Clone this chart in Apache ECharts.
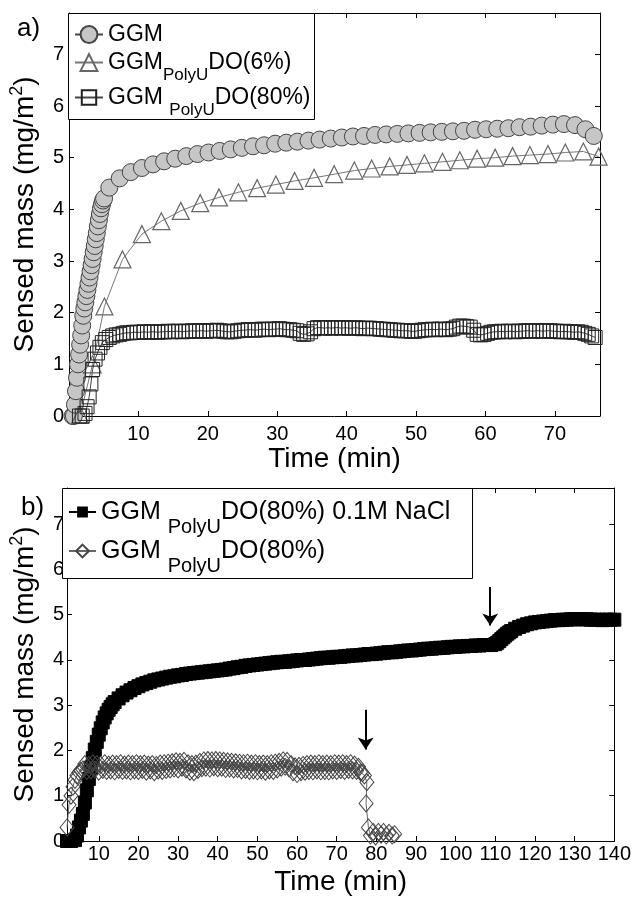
<!DOCTYPE html>
<html>
<head>
<meta charset="utf-8">
<script src="https://cdn.jsdelivr.net/npm/echarts@6/dist/echarts.min.js"></script>
<style>
  html, body { margin: 0; padding: 0; background: #fff; }
  #chart { width: 634px; height: 897px; }
</style>
</head>
<body>
<div id="chart"></div>
<script>
// ---- data ----
const xTicksA = [10, 20, 30, 40, 50, 60, 70];
const xTicksB = [10, 20, 30, 40, 50, 60, 70, 80, 90, 100, 110, 120, 130, 140];
const yTicks = [0, 1, 2, 3, 4, 5, 6, 7];

// panel a) GGM (circles)
const ggm = [
  [0.5, 0.0], [0.7, 0.0], [0.85, 0.22], [1.0, 0.48], [1.15, 0.74], [1.3, 1.0], [1.45, 1.19], [1.6, 1.38],
  [1.75, 1.56], [1.9, 1.75], [2.05, 1.94], [2.2, 2.08], [2.35, 2.2], [2.5, 2.32], [2.65, 2.44], [2.8, 2.56],
  [2.95, 2.68], [3.1, 2.8], [3.25, 2.92], [3.4, 3.04], [3.55, 3.17], [3.7, 3.29], [3.85, 3.42], [4.0, 3.54],
  [4.15, 3.67], [4.3, 3.79], [4.45, 3.91], [4.6, 4.02], [4.75, 4.1], [4.9, 4.17], [5.05, 4.21],
  [5.8, 4.42], [7.3, 4.6], [8.9, 4.72], [10.5, 4.8], [12.1, 4.87], [13.7, 4.93], [15.3, 4.98],
  [16.9, 5.03], [18.5, 5.07], [20.1, 5.1], [21.7, 5.13], [23.3, 5.16], [24.9, 5.19], [26.5, 5.22],
  [28.1, 5.24], [29.7, 5.27], [31.3, 5.29], [32.9, 5.31], [34.5, 5.33], [36.1, 5.35], [37.7, 5.37],
  [39.3, 5.39], [40.9, 5.41], [42.5, 5.42], [44.1, 5.44], [45.7, 5.45], [47.3, 5.46], [48.9, 5.47],
  [50.5, 5.48], [52.1, 5.49], [53.7, 5.5], [55.3, 5.51], [56.9, 5.52], [58.5, 5.54], [60.1, 5.55],
  [61.7, 5.56], [63.3, 5.57], [64.9, 5.59], [66.5, 5.6], [68.1, 5.62], [69.7, 5.64], [71.3, 5.65],
  [72.9, 5.63], [74.4, 5.55], [75.6, 5.42]
];

// panel a) GGM PolyU DO(6%) (triangles)
const do6 = [
  [1.6, 0.02], [3.4, 1.0], [5.1, 2.12], [7.7, 3.03], [10.5, 3.52], [13.3, 3.77], [16.1, 3.97],
  [18.9, 4.12], [21.6, 4.23], [24.4, 4.33], [27.1, 4.41], [29.8, 4.48], [32.5, 4.55], [35.3, 4.61],
  [38.2, 4.68], [41.1, 4.75], [43.6, 4.79], [46.2, 4.83], [48.7, 4.86], [51.2, 4.89], [53.8, 4.92],
  [56.3, 4.95], [58.8, 4.98], [61.4, 5.0], [63.9, 5.03], [66.4, 5.05], [69.0, 5.07], [71.5, 5.1],
  [74.1, 5.12], [76.3, 5.02]
];

// panel a) GGM PolyU DO(80%) (squares)
const do80a = [
  [1.5, 0.0], [1.9, 0.0], [2.3, 0.05], [2.6, 0.18], [2.9, 0.37], [3.15, 0.62], [3.4, 0.9], [3.75, 1.1],
  [4.1, 1.22], [4.45, 1.33], [4.8, 1.42], [5.3, 1.48], [5.8, 1.52], [6.3, 1.55], [6.8, 1.57], [7.3, 1.58],
  [7.8, 1.6], [8.3, 1.61], [8.8, 1.61], [9.3, 1.62], [9.8, 1.62], [10.3, 1.62], [10.8, 1.63], [11.3, 1.62],
  [11.8, 1.63], [12.3, 1.63], [12.8, 1.62], [13.3, 1.63], [13.8, 1.63], [14.3, 1.64], [14.8, 1.63],
  [15.3, 1.64], [15.8, 1.64], [16.3, 1.63], [16.8, 1.64], [17.3, 1.64], [17.8, 1.65], [18.3, 1.64],
  [18.8, 1.65], [19.3, 1.65], [19.8, 1.64], [20.3, 1.65], [20.8, 1.65], [21.3, 1.66], [21.8, 1.65],
  [22.3, 1.64], [22.8, 1.63], [23.3, 1.63], [23.8, 1.64], [24.3, 1.65], [24.8, 1.66], [25.3, 1.66],
  [25.8, 1.67], [26.3, 1.67], [26.8, 1.66], [27.3, 1.67], [27.8, 1.68], [28.3, 1.68], [28.8, 1.67],
  [29.3, 1.68], [29.8, 1.68], [30.3, 1.69], [30.8, 1.68], [31.3, 1.67], [31.8, 1.67], [32.3, 1.66],
  [32.8, 1.65], [33.3, 1.6], [33.8, 1.58], [34.3, 1.59], [34.8, 1.63], [35.3, 1.69], [35.8, 1.71],
  [36.3, 1.71], [36.8, 1.7], [37.3, 1.71], [37.8, 1.7], [38.3, 1.71], [38.8, 1.71], [39.3, 1.7],
  [39.8, 1.71], [40.3, 1.7], [40.8, 1.7], [41.3, 1.71], [41.8, 1.7], [42.3, 1.69], [42.8, 1.7],
  [43.3, 1.7], [43.8, 1.69], [44.3, 1.69], [44.8, 1.68], [45.3, 1.68], [45.8, 1.67], [46.3, 1.67],
  [46.8, 1.66], [47.3, 1.66], [47.8, 1.65], [48.3, 1.65], [48.8, 1.65], [49.3, 1.64], [49.8, 1.64],
  [50.3, 1.65], [50.8, 1.66], [51.3, 1.67], [51.8, 1.67], [52.3, 1.68], [52.8, 1.67], [53.3, 1.68],
  [53.8, 1.68], [54.3, 1.67], [54.8, 1.68], [55.3, 1.69], [55.8, 1.72], [56.3, 1.74], [56.8, 1.74],
  [57.3, 1.73], [57.8, 1.72], [58.3, 1.66], [58.8, 1.58], [59.3, 1.57], [59.8, 1.58], [60.3, 1.6],
  [60.8, 1.62], [61.3, 1.63], [61.8, 1.63], [62.3, 1.64], [62.8, 1.63], [63.3, 1.64], [63.8, 1.64],
  [64.3, 1.63], [64.8, 1.64], [65.3, 1.64], [65.8, 1.65], [66.3, 1.65], [66.8, 1.64], [67.3, 1.65],
  [67.8, 1.65], [68.3, 1.64], [68.8, 1.65], [69.3, 1.65], [69.8, 1.64], [70.3, 1.64], [70.8, 1.63],
  [71.3, 1.64], [71.8, 1.63], [72.3, 1.63], [72.8, 1.62], [73.3, 1.63], [73.8, 1.62], [74.3, 1.6],
  [74.8, 1.58], [75.3, 1.55], [75.8, 1.52]
];

// panel b) GGM PolyU DO(80%) 0.1M NaCl (filled squares)
const nacl = [
  [2, 0.0], [3, 0.0], [4, 0.02], [4.5, 0.12], [5, 0.3], [5.5, 0.45], [6, 0.6], [6.5, 0.85], [7, 1.12],
  [7.5, 1.37], [8, 1.62], [8.5, 1.83], [9, 2.02], [9.5, 2.19], [10, 2.35], [10.5, 2.49], [11, 2.62],
  [11.5, 2.73], [12, 2.82], [12.5, 2.9], [13, 2.96], [13.5, 3.02], [14, 3.07], [15, 3.15], [16, 3.22],
  [17, 3.28], [18, 3.33], [19, 3.38], [20, 3.42], [21, 3.46], [22, 3.49], [23, 3.52], [24, 3.55],
  [25, 3.57], [26, 3.59], [27, 3.61], [28, 3.63], [29, 3.64], [30, 3.66], [31, 3.67], [32, 3.69],
  [33, 3.7], [34, 3.71], [35, 3.72], [36, 3.73], [37, 3.74], [38, 3.75], [39, 3.76], [40, 3.77],
  [41, 3.78], [42, 3.79], [43, 3.81], [44, 3.82], [45, 3.84], [46, 3.85], [47, 3.87], [48, 3.88],
  [49, 3.89], [50, 3.9], [51, 3.91], [52, 3.92], [53, 3.93], [54, 3.94], [55, 3.95], [56, 3.96],
  [57, 3.96], [58, 3.97], [59, 3.98], [60, 3.99], [61, 4.0], [62, 4.0], [63, 4.01], [64, 4.02],
  [65, 4.03], [66, 4.04], [67, 4.05], [68, 4.05], [69, 4.06], [70, 4.07], [71, 4.07], [72, 4.08],
  [73, 4.09], [74, 4.1], [75, 4.1], [76, 4.11], [77, 4.12], [78, 4.13], [79, 4.13], [80, 4.14],
  [81, 4.15], [82, 4.16], [83, 4.17], [84, 4.17], [85, 4.18], [86, 4.19], [87, 4.2], [88, 4.21],
  [89, 4.21], [90, 4.22], [91, 4.23], [92, 4.24], [93, 4.25], [94, 4.25], [95, 4.26], [96, 4.27],
  [97, 4.27], [98, 4.28], [99, 4.29], [100, 4.29], [101, 4.3], [102, 4.3], [103, 4.31], [104, 4.31],
  [105, 4.32], [106, 4.32], [107, 4.33], [108, 4.33], [109, 4.33], [110, 4.35], [110.5, 4.38],
  [111, 4.42], [111.5, 4.46], [112, 4.5], [112.5, 4.54], [113, 4.58], [113.5, 4.61], [114, 4.64],
  [115, 4.69], [116, 4.73], [117, 4.76], [118, 4.79], [119, 4.81], [120, 4.83], [121, 4.84], [122, 4.85],
  [123, 4.86], [124, 4.87], [125, 4.88], [126, 4.88], [127, 4.89], [128, 4.89], [129, 4.9], [130, 4.9],
  [131, 4.9], [132, 4.9], [133, 4.9], [134, 4.89], [135, 4.89], [136, 4.89], [137, 4.88], [138, 4.89],
  [139, 4.89], [140, 4.89]
];

// panel b) GGM PolyU DO(80%) (open diamonds)
const do80b = [
  [2.0, 0.3], [2.5, 0.8], [3.0, 1.0], [3.5, 1.2], [4.0, 1.35], [4.5, 1.45], [5.0, 1.52], [5.5, 1.55],
  [6, 1.58], [6.5, 1.7], [7, 1.55], [7.5, 1.68], [8, 1.56], [8.5, 1.72], [9, 1.58], [9.5, 1.7],
  [10, 1.53], [10.5, 1.68], [11, 1.57], [11.5, 1.72], [12, 1.55], [12.5, 1.69], [13, 1.56], [13.5, 1.71],
  [14, 1.54], [14.5, 1.7], [15, 1.57], [15.5, 1.72], [16, 1.55], [16.5, 1.69], [17, 1.56], [17.5, 1.71],
  [18, 1.54], [18.5, 1.7], [19, 1.56], [19.5, 1.72], [20, 1.55], [20.5, 1.7], [21, 1.57], [21.5, 1.71],
  [22, 1.53], [22.5, 1.69], [23, 1.56], [23.5, 1.7], [24, 1.52], [24.5, 1.68], [25, 1.56], [25.5, 1.71],
  [26, 1.55], [26.5, 1.72], [27, 1.57], [27.5, 1.73], [28, 1.58], [28.5, 1.74], [29, 1.6], [29.5, 1.76],
  [30, 1.58], [30.5, 1.75], [31, 1.62], [31.5, 1.77], [32, 1.58], [32.5, 1.72], [33, 1.53], [33.5, 1.7],
  [34, 1.52], [34.5, 1.71], [35, 1.57], [35.5, 1.75], [36, 1.61], [36.5, 1.78], [37, 1.62], [37.5, 1.79],
  [38, 1.6], [38.5, 1.78], [39, 1.63], [39.5, 1.79], [40, 1.61], [40.5, 1.78], [41, 1.62], [41.5, 1.77],
  [42, 1.59], [42.5, 1.76], [43, 1.6], [43.5, 1.75], [44, 1.58], [44.5, 1.74], [45, 1.59], [45.5, 1.73],
  [46, 1.56], [46.5, 1.72], [47, 1.57], [47.5, 1.73], [48, 1.55], [48.5, 1.71], [49, 1.56], [49.5, 1.72],
  [50, 1.54], [50.5, 1.7], [51, 1.56], [51.5, 1.71], [52, 1.53], [52.5, 1.7], [53, 1.56], [53.5, 1.72],
  [54, 1.55], [54.5, 1.73], [55, 1.58], [55.5, 1.75], [56, 1.62], [56.5, 1.78], [57, 1.64], [57.5, 1.77],
  [58, 1.6], [58.5, 1.7], [59, 1.52], [59.5, 1.65], [60, 1.48], [60.5, 1.66], [61, 1.52], [61.5, 1.68],
  [62, 1.53], [62.5, 1.7], [63, 1.55], [63.5, 1.71], [64, 1.54], [64.5, 1.7], [65, 1.56], [65.5, 1.72],
  [66, 1.54], [66.5, 1.7], [67, 1.55], [67.5, 1.71], [68, 1.54], [68.5, 1.7], [69, 1.56], [69.5, 1.72],
  [70, 1.55], [70.5, 1.71], [71, 1.57], [71.5, 1.72], [72, 1.55], [72.5, 1.7], [73, 1.57], [73.5, 1.72],
  [74, 1.56], [74.5, 1.69], [75, 1.55], [75.5, 1.64], [76, 1.52], [76.5, 1.5], [77.0, 1.45], [77.6, 1.3],
  [77.4, 0.83], [78.0, 0.3], [78.5, 0.12], [79.2, 0.2], [79.8, 0.1], [80.5, 0.2], [81.2, 0.14],
  [81.8, 0.2], [82.5, 0.12], [83.2, 0.18], [84.0, 0.12], [84.6, 0.15]
];

// arrows in panel b): [time, from, to]
const arrowsB = [[77.3, 2.9, 2.02], [108.7, 5.61, 4.76]];

// legend label pieces: [main, subscript, tail]
const labelParts = {
  'GGM': ['GGM', '', ''],
  'GGM PolyU DO(6%)': ['GGM', 'PolyU', 'DO(6%)'],
  'GGM  PolyU DO(80%)': ['GGM ', 'PolyU', 'DO(80%)'],
  'GGM PolyU DO(80%) 0.1M NaCl': ['GGM ', 'PolyU', 'DO(80%) 0.1M NaCl'],
  'GGM PolyU DO(80%) b': ['GGM ', 'PolyU', 'DO(80%)']
};

const FONT = '"Liberation Sans", Arial, Helvetica, sans-serif';

function legendText(name) {
  const p = labelParts[name];
  let s = '{m|' + p[0] + '}';
  if (p[1]) s += '{s|' + p[1] + '}';
  if (p[2]) s += '{m|' + p[2] + '}';
  return s;
}

function richA() {
  return {
    m: { fontSize: 23, lineHeight: 26, color: '#000', fontFamily: FONT },
    s: { fontSize: 17, lineHeight: 26, padding: [26, 0, 0, 0], color: '#000', fontFamily: FONT }
  };
}
function richB() {
  return {
    m: { fontSize: 25, lineHeight: 30, color: '#000', fontFamily: FONT },
    s: { fontSize: 20, lineHeight: 30, padding: [30, 0, 0, 0], color: '#000', fontFamily: FONT }
  };
}

function oneLegend(name, left, top, itemWidth, itemHeight, rich) {
  return {
    data: [name],
    left: left,
    top: top,
    orient: 'vertical',
    padding: 0,
    itemWidth: itemWidth,
    itemHeight: itemHeight,
    selectedMode: false,
    formatter: legendText,
    textStyle: { rich: rich }
  };
}

function xAxisOpt(grid, min, max, ticks, pos, showLabel, margin, withName) {
  const o = {
    type: 'value',
    gridIndex: grid,
    position: pos,
    min: min,
    max: max,
    axisLine: { show: true, onZero: false, lineStyle: { color: '#000', width: 1 } },
    axisTick: { show: true, inside: true, length: 5, customValues: ticks, lineStyle: { color: '#000' } },
    axisLabel: { show: showLabel, customValues: ticks, fontSize: 20, color: '#000', margin: margin, fontFamily: FONT },
    splitLine: { show: false }
  };
  if (withName) {
    o.name = 'Time (min)';
    o.nameLocation = 'middle';
    o.nameGap = withName;
    o.nameTextStyle = { fontSize: 28, color: '#000', fontFamily: FONT };
  }
  return o;
}

function yAxisOpt(grid, pos, showLabel, margin, withName) {
  const o = {
    type: 'value',
    gridIndex: grid,
    position: pos,
    min: 0,
    max: 7.8,
    axisLine: { show: true, onZero: false, lineStyle: { color: '#000', width: 1 } },
    axisTick: { show: true, inside: true, length: 5, customValues: yTicks, lineStyle: { color: '#000' } },
    axisLabel: { show: showLabel, customValues: yTicks, fontSize: 20, color: '#000', margin: margin, fontFamily: FONT },
    splitLine: { show: false }
  };
  if (withName) {
    o.name = '{t|Sensed mass (mg/m}{p|2}{t|)}';
    o.nameLocation = 'middle';
    o.nameGap = withName;
    o.nameRotate = 90;
    o.nameTextStyle = {
      rich: {
        t: { fontSize: 28, lineHeight: 32, color: '#000', fontFamily: FONT },
        p: { fontSize: 18, lineHeight: 20, padding: [0, 0, 16, 0], color: '#000', fontFamily: FONT }
      }
    };
  }
  return o;
}

const chart = echarts.init(document.getElementById('chart'));

const option = {
  animation: false,
  backgroundColor: '#fff',
  textStyle: { fontFamily: FONT },
  grid: [
    { left: 68, right: 34, top: 13, height: 403 },
    { left: 60, right: 19, top: 488, height: 358 }
  ],
  xAxis: [
    xAxisOpt(0, 0, 76.5, xTicksA, 'bottom', true, 8, 27),
    xAxisOpt(0, 0, 76.5, xTicksA, 'top', false, 8, 0),
    xAxisOpt(1, 2, 140, xTicksB, 'bottom', true, 3, 27),
    xAxisOpt(1, 2, 140, xTicksB, 'top', false, 3, 0)
  ],
  yAxis: [
    yAxisOpt(0, 'left', true, 5, 21),
    yAxisOpt(0, 'right', false, 5, 0),
    yAxisOpt(1, 'left', true, 3, 16),
    yAxisOpt(1, 'right', false, 3, 0)
  ],
  legend: [
    oneLegend('GGM', 74, 23, 28, 21, richA()),
    oneLegend('GGM PolyU DO(6%)', 74, 41, 28, 21, richA()),
    oneLegend('GGM  PolyU DO(80%)', 74, 76, 28, 18, richA()),
    oneLegend('GGM PolyU DO(80%) 0.1M NaCl', 68, 487, 27, 11, richB()),
    oneLegend('GGM PolyU DO(80%) b', 68, 526, 27, 16, richB())
  ],
  graphic: [
    { type: 'rect', z: 3, shape: { x: 68.5, y: 13.5, width: 246, height: 106 },
      style: { fill: '#fff', stroke: '#000', lineWidth: 1 } },
    { type: 'rect', z: 3, shape: { x: 62.5, y: 488.5, width: 410, height: 90 },
      style: { fill: '#fff', stroke: '#000', lineWidth: 1 } },
    { type: 'text', left: 17, top: 16, style: { text: 'a)', font: '26px ' + FONT, fill: '#000' } },
    { type: 'text', left: 21, top: 495, style: { text: 'b)', font: '26px ' + FONT, fill: '#000' } }
  ],
  series: [
    {
      name: 'GGM', type: 'line', xAxisIndex: 0, yAxisIndex: 0, data: ggm,
      symbol: 'circle', symbolSize: 17, showAllSymbol: true, clip: false,
      itemStyle: { color: '#c6c6c6', borderColor: '#444', borderWidth: 1 },
      lineStyle: { color: '#444', width: 1 }
    },
    {
      name: 'GGM PolyU DO(6%)', type: 'line', xAxisIndex: 0, yAxisIndex: 0, data: do6,
      symbol: 'triangle', symbolSize: 17, showAllSymbol: true, clip: false,
      itemStyle: { color: 'rgba(255,255,255,0)', borderColor: '#666', borderWidth: 1.2 },
      lineStyle: { color: '#777', width: 1 }
    },
    {
      name: 'GGM  PolyU DO(80%)', type: 'line', xAxisIndex: 0, yAxisIndex: 0, data: do80a,
      symbol: 'rect', symbolSize: 14, showAllSymbol: true, clip: false,
      itemStyle: { color: 'rgba(255,255,255,0)', borderColor: '#222', borderWidth: 1 },
      lineStyle: { color: '#444', width: 1 }
    },
    {
      name: 'GGM PolyU DO(80%) 0.1M NaCl', type: 'line', xAxisIndex: 2, yAxisIndex: 2, data: nacl,
      symbol: 'rect', symbolSize: 13, showAllSymbol: true, clip: false,
      itemStyle: { color: '#000', borderColor: '#000', borderWidth: 1 },
      lineStyle: { color: '#000', width: 1 },
      markLine: {
        silent: true,
        symbol: ['none', 'arrow'],
        symbolSize: 12,
        label: { show: false },
        lineStyle: { color: '#000', width: 2, type: 'solid' },
        data: arrowsB.map(a => [{ coord: [a[0], a[1]] }, { coord: [a[0], a[2]] }])
      }
    },
    {
      name: 'GGM PolyU DO(80%) b', type: 'line', xAxisIndex: 2, yAxisIndex: 2, data: do80b,
      symbol: 'diamond', symbolSize: [14, 17], showAllSymbol: true, clip: false,
      itemStyle: { color: 'rgba(255,255,255,0)', borderColor: '#444', borderWidth: 1 },
      lineStyle: { color: '#666', width: 1 }
    }
  ]
};

chart.setOption(option);
</script>
</body>
</html>
